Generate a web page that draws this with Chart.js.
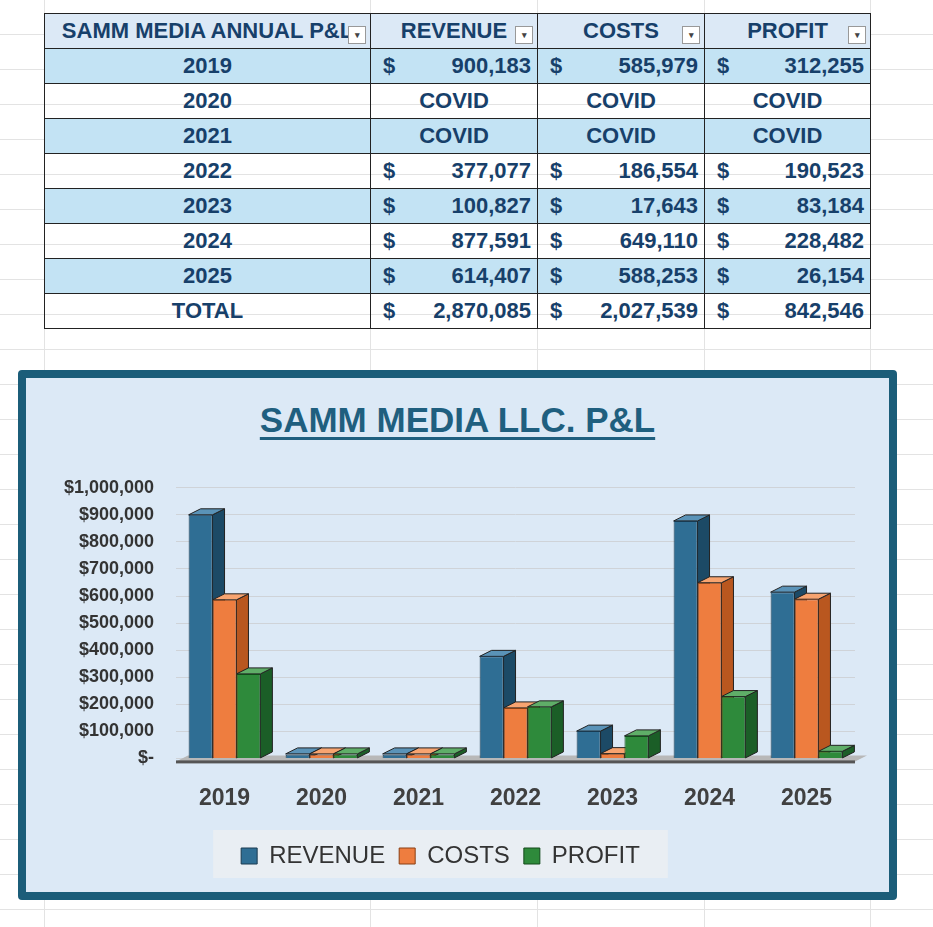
<!DOCTYPE html>
<html>
<head>
<meta charset="utf-8">
<script src="https://cdn.jsdelivr.net/npm/chart.js@4.4.1/dist/chart.umd.min.js"></script>
<style>
  body { margin:0; width:933px; height:927px; overflow:hidden; position:relative;
    font-family:"Liberation Sans", Arial, sans-serif; background:#fff;
    background-image:
      repeating-linear-gradient(to bottom, transparent 0 34px, #e3e3e3 34px 35px);
  }
  .vline { position:absolute; top:0; bottom:0; width:1px; background:#e3e3e3; }
  table { position:absolute; left:44px; top:13px; border-collapse:collapse; color:#17406a;
    font-weight:bold; font-size:22px; }
  td, th { border:1px solid #222; height:35px; padding:0 6px; box-sizing:border-box; }
  th { background:#dce9f6; font-size:22px; position:relative; }
  th .dd { position:absolute; right:4px; bottom:4px; width:16px; height:16px; border:1px solid #999;
    background:#fff; font-size:9px; line-height:16px; text-align:center; color:#444; }
  tr.band td { background:#c3e3f4; }
  td.yr { text-align:center; }
  td.c { text-align:center; }
  .m { display:flex; justify-content:space-between; }
  .m span:first-child { padding-left:6px; }
  #box { position:absolute; left:18px; top:370px; width:879px; height:530px; box-sizing:border-box;
    border:8px solid #1b5d79; border-radius:4px; background:#dce9f6; }
  #title { position:absolute; left:0; right:0; top:22px; text-align:center; font-size:35px;
    font-weight:bold; color:#1f5f7f; text-decoration:underline; text-underline-offset:5px; }
  #wrap { position:absolute; left:0; top:77px; width:863px; height:437px; }
</style>
</head>
<body>
<div class="vline" style="left:44px"></div>
<div class="vline" style="left:370px"></div>
<div class="vline" style="left:537px"></div>
<div class="vline" style="left:704px"></div>
<div class="vline" style="left:870px"></div>
<table id="tbl">
  <colgroup><col style="width:326px"><col style="width:167px"><col style="width:167px"><col style="width:166px"></colgroup>
  <tr><th>SAMM MEDIA ANNUAL P&amp;L<span class="dd">▾</span></th><th>REVENUE<span class="dd">▾</span></th><th>COSTS<span class="dd">▾</span></th><th>PROFIT<span class="dd">▾</span></th></tr>
</table>
<div id="box">
  <div id="title">SAMM MEDIA LLC. P&amp;L</div>
  <div id="wrap"><canvas id="grafica"></canvas></div>
</div>
<script>
const years = ["2019", "2020", "2021", "2022", "2023", "2024", "2025"];
const revenue = [900183, 0, 0, 377077, 100827, 877591, 614407];
const costs = [585979, 0, 0, 186554, 17643, 649110, 588253];
const profit = [312255, 0, 0, 190523, 83184, 228482, 26154];
const covid = [false, true, true, false, false, false, false];
const totals = ["2,870,085", "2,027,539", "842,546"];

// tabla
const tbl = document.getElementById("tbl");
const fmt = v => v.toLocaleString("en-US");
years.forEach((y, i) => {
  const tr = document.createElement("tr");
  if (i % 2 === 0) tr.className = "band";
  let html = `<td class="yr">${y}</td>`;
  [revenue, costs, profit].forEach(s => {
    html += covid[i] ? `<td class="c">COVID</td>` : `<td><div class="m"><span>$</span><span>${fmt(s[i])}</span></div></td>`;
  });
  tr.innerHTML = html;
  tbl.appendChild(tr);
});
const trT = document.createElement("tr");
trT.innerHTML = `<td class="yr">TOTAL</td>` + totals.map(t => `<td><div class="m"><span>$</span><span>${t}</span></div></td>`).join("");
tbl.appendChild(trT);

// 3D
const DX = 12, DY = 6;
const sides = ["#1c4a66", "#b9571f", "#1b5e27"];
const tops = ["#5a93b8", "#f7a470", "#5fae68"];
const depth3d = {
  id: "depth3d",
  beforeDatasetsDraw(chart) {
    const ctx = chart.ctx, a = chart.chartArea;
    const y0 = chart.scales.y.getPixelForValue(0);
    ctx.save();
    ctx.fillStyle = "#b8b8b8";
    ctx.beginPath();
    ctx.moveTo(a.left, y0 + 3); ctx.lineTo(a.right, y0 + 3);
    ctx.lineTo(a.right + DX, y0 - DY + 3); ctx.lineTo(a.left + DX, y0 - DY + 3); ctx.closePath();
    ctx.fill();
    ctx.fillStyle = "#555"; ctx.fillRect(a.left, y0 + 2, a.right - a.left, 3);
    chart.data.datasets.forEach((ds, di) => {
      chart.getDatasetMeta(di).data.forEach(bar => {
        const l = bar.x - bar.width / 2, r = bar.x + bar.width / 2;
        const top = Math.min(bar.y, bar.base - 4), base = bar.base;
        ctx.strokeStyle = "#222"; ctx.lineWidth = 1;
        ctx.fillStyle = sides[di];
        ctx.beginPath();
        ctx.moveTo(r, top); ctx.lineTo(r + DX, top - DY); ctx.lineTo(r + DX, base - DY); ctx.lineTo(r, base);
        ctx.closePath(); ctx.fill(); ctx.stroke();
        ctx.fillStyle = tops[di];
        ctx.beginPath();
        ctx.moveTo(l, top); ctx.lineTo(l + DX, top - DY); ctx.lineTo(r + DX, top - DY); ctx.lineTo(r, top);
        ctx.closePath(); ctx.fill(); ctx.stroke();
      });
    });
    ctx.restore();
  },
  beforeDraw(chart) {
    const lg = chart.legend, ctx = chart.ctx;
    const hb = lg.legendHitBoxes;
    if (!hb || !hb.length) return;
    const l = hb[0].left - 28, r = hb[hb.length - 1].left + hb[hb.length - 1].width + 28;
    ctx.save(); ctx.fillStyle = "#e9eef3";
    ctx.fillRect(l, lg.top, r - l, lg.height);
    ctx.restore();
  }
};

new Chart(document.getElementById("grafica"), {
  type: "bar",
  data: {
    labels: years,
    datasets: [
      { label: "REVENUE", data: revenue.map((v, i) => covid[i] ? 0 : v), backgroundColor: "#2f6e94", borderColor: "#1a3a50" },
      { label: "COSTS", data: costs.map((v, i) => covid[i] ? 0 : v), backgroundColor: "#ee7d3f", borderColor: "#8a3f12" },
      { label: "PROFIT", data: profit.map((v, i) => covid[i] ? 0 : v), backgroundColor: "#2e8a3b", borderColor: "#124a1a" }
    ]
  },
  options: {
    responsive: true, maintainAspectRatio: false, animation: false,
    layout: { padding: { top: 25, right: 34, bottom: 14 } },
    datasets: { bar: { borderWidth: 1, categoryPercentage: 0.74, barPercentage: 1, minBarLength: 4 } },
    plugins: {
      tooltip: { enabled: false },
      legend: {
        position: "bottom",
        labels: { font: { size: 24, family: "Liberation Sans" }, color: "#333", boxWidth: 16, boxHeight: 16, padding: 14 }
      }
    },
    scales: {
      y: {
        min: 0, max: 1000000,
        ticks: { stepSize: 100000, color: "#333", padding: 22, font: { size: 18, weight: "bold", family: "Liberation Sans" },
          callback: v => v === 0 ? "$-" : "$" + v.toLocaleString("en-US") },
        grid: { color: "#cfd3d8", tickLength: 0 }, border: { display: false },
        afterFit: s => { s.width = 150; }
      },
      x: {
        ticks: { color: "#404040", font: { size: 23, weight: "bold", family: "Liberation Sans" }, padding: 18 },
        grid: { display: false }, border: { display: false }
      }
    }
  },
  plugins: [depth3d]
});
</script>
</body>
</html>
